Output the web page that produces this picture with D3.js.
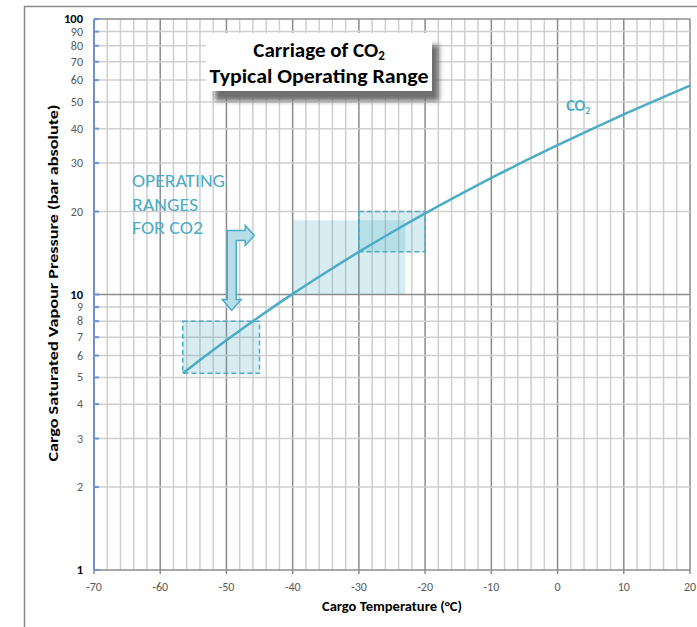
<!DOCTYPE html>
<meta charset="utf-8">
<head>
<style>
 body { margin: 0; background: #fff; }
 svg text { font-family: Carlito, "Open Sans", sans-serif; }
 .tick-minor { fill: #595959; font-size: 12px; }
 .tick-major { fill: #000; font-size: 12.5px; font-weight: bold; }
 .axis-title { font-size: 14px; font-weight: bold; fill: #000; }
</style>
</head>
<body>
<svg width="697" height="627"></svg>
<script src="https://d3js.org/d3.v7.min.js"></script>
<script>
  // CO2 saturation curve (deg C, bar abs)
  var temps     = [-56.6, -55, -50, -45, -40, -35, -30, -25, -20, -15, -10, -5, 0, 5, 10, 15, 20];
  var pressures = [5.18, 5.54, 6.82, 8.32, 10.05, 12.02, 14.28, 16.83, 19.70, 22.91, 26.49, 30.46, 34.85, 39.69, 45.02, 50.87, 57.29];

  // operating range boxes
  var rangeT0 = [-56.6, -40, -30];
  var rangeT1 = [-45, -23, -20];
  var rangeP0 = [5.18, 10, 14.3];
  var rangeP1 = [8, 18.6, 20];
  var rangeDashed = [true, false, true];

  var xTicks = [-70, -60, -50, -40, -30, -20, -10, 0, 10, 20];
  var yTicks = [1, 2, 3, 4, 5, 6, 7, 8, 9, 10, 20, 30, 40, 50, 60, 70, 80, 90, 100];
  var yMajor = [1, 10, 100];

  var svg = d3.select('svg');
  var width = +svg.attr('width');
  var height = +svg.attr('height');
  var margin = { top: 19, left: 94, bottom: 57, right: 7 };
  var aqua = '#4bacc6';

  var x = d3.scaleLinear().domain([-70, 20]).range([margin.left, width - margin.right]);
  var y = d3.scaleLog().domain([1, 100]).range([height - margin.bottom, margin.top]);

  // outer frame
  svg.append('rect').attr('x', 24.5).attr('y', 6.5).attr('width', 700).attr('height', 700)
    .attr('fill', 'none').attr('stroke', '#8a8a8a').attr('stroke-width', 1.5);

  var defs = svg.append('defs');
  defs.append('filter').attr('id', 'blur').attr('x', '-20%').attr('y', '-30%').attr('width', '140%').attr('height', '160%')
    .append('feGaussianBlur').attr('stdDeviation', 2.5);

  // grid
  var grid = svg.append('g');
  var vLines = d3.range(-70, 21, 2);
  grid.selectAll('.vl').data(vLines).enter().append('line')
    .attr('x1', d => x(d)).attr('x2', d => x(d))
    .attr('y1', y(100)).attr('y2', y(1))
    .attr('stroke', d => d % 10 === 0 ? '#8c8c8c' : '#cfcfcf')
    .attr('stroke-width', 1.5);
  grid.selectAll('.hl').data(yTicks).enter().append('line')
    .attr('x1', x(-70)).attr('x2', x(20))
    .attr('y1', d => y(d)).attr('y2', d => y(d))
    .attr('stroke', d => yMajor.indexOf(d) >= 0 ? '#8c8c8c' : '#cfcfcf')
    .attr('stroke-width', 1.5);

  // x ticks
  grid.selectAll('.xt').data(xTicks).enter().append('line')
    .attr('x1', d => x(d)).attr('x2', d => x(d))
    .attr('y1', y(1)).attr('y2', y(1) + 4)
    .attr('stroke', '#8c8c8c').attr('stroke-width', 1.5);
  svg.selectAll('.xl').data(xTicks).enter().append('text')
    .attr('class', 'tick-minor')
    .attr('x', d => x(d)).attr('y', y(1) + 21)
    .attr('text-anchor', 'middle')
    .text(d => d);

  // y axis (blue)
  svg.append('line').attr('x1', x(-70)).attr('x2', x(-70)).attr('y1', y(100)).attr('y2', y(1))
    .attr('stroke', '#6f93cf').attr('stroke-width', 2);
  svg.append('line').attr('x1', x(-70)).attr('x2', x(-70) + 6).attr('y1', y(1)).attr('y2', y(1))
    .attr('stroke', '#6f93cf').attr('stroke-width', 2);
  svg.selectAll('.yt').data(yTicks).enter().append('line')
    .attr('x1', x(-70)).attr('x2', x(-70) + 5)
    .attr('y1', d => y(d)).attr('y2', d => y(d))
    .attr('stroke', '#6f93cf').attr('stroke-width', 2);
  svg.selectAll('.yl').data(yTicks).enter().append('text')
    .attr('class', d => yMajor.indexOf(d) >= 0 ? 'tick-major' : 'tick-minor')
    .attr('x', x(-70) - 11).attr('y', d => y(d)).attr('dy', '0.33em')
    .attr('text-anchor', 'end')
    .text(d => d);

  // operating ranges
  var boxes = d3.range(rangeT0.length);
  svg.selectAll('.box').data(boxes).enter().append('rect')
    .attr('x', i => x(rangeT0[i])).attr('width', i => x(rangeT1[i]) - x(rangeT0[i]))
    .attr('y', i => y(rangeP1[i])).attr('height', i => y(rangeP0[i]) - y(rangeP1[i]))
    .attr('fill', aqua).attr('fill-opacity', 0.22)
    .attr('stroke', i => rangeDashed[i] ? aqua : 'none')
    .attr('stroke-width', 1.5)
    .attr('stroke-dasharray', '5,3');

  // curve
  var pts = temps.map((t, i) => [t, pressures[i]]);
  svg.append('path').datum(pts)
    .attr('d', d3.line().x(d => x(d[0])).y(d => y(d[1])).curve(d3.curveMonotoneX))
    .attr('fill', 'none').attr('stroke', aqua).attr('stroke-width', 2.5);

  var lab = svg.append('text').attr('x', x(1.3)).attr('y', y(46.5))
    .attr('fill', aqua).attr('font-size', 16).attr('font-weight', 'bold');
  lab.append('tspan').text('CO');
  lab.append('tspan').attr('font-size', 10).attr('dy', 3).text('2');

  // annotation text + bent arrow
  var notes = ['OPERATING', 'RANGES', 'FOR CO2'];
  svg.selectAll('.note').data(notes).enter().append('text')
    .attr('x', 132).attr('y', (d, i) => 187 + i * 23.5)
    .attr('fill', aqua).attr('font-size', 18)
    .attr('textLength', (d, i) => [93, 66, 71][i]).attr('lengthAdjust', 'spacingAndGlyphs')
    .text(d => d);

  var ax = x(-49.2), ay = y(8.75);
  var arrow = [[-4.5, -80], [13.5, -80], [13.5, -85], [22.5, -75], [13.5, -65], [13.5, -70],
               [4.5, -70], [4.5, -11], [9.5, -11], [0, 0], [-9.5, -11], [-4.5, -11]];
  svg.append('path')
    .attr('d', 'M' + arrow.map(p => (ax + p[0]) + ',' + (ay + p[1])).join('L') + 'Z')
    .attr('fill', '#b7dde8').attr('stroke', aqua).attr('stroke-width', 1.5);

  // title box
  var tb = svg.append('g');
  tb.append('rect').attr('x', 215).attr('y', 45).attr('width', 224).attr('height', 56)
    .attr('fill', '#6e6e6e').attr('filter', 'url(#blur)');
  tb.append('rect').attr('x', 206).attr('y', 33).attr('width', 226).attr('height', 58)
    .attr('fill', '#fff');
  var t1 = tb.append('text').attr('x', 319).attr('y', 57).attr('text-anchor', 'middle')
    .attr('font-size', 21).attr('font-weight', 'bold').attr('fill', '#000');
  t1.append('tspan').text('Carriage of CO');
  t1.append('tspan').attr('font-size', 13).attr('dy', 3).text('2');
  tb.append('text').attr('x', 319).attr('y', 83).attr('text-anchor', 'middle')
    .attr('font-size', 21).attr('font-weight', 'bold').attr('fill', '#000')
    .attr('textLength', 219).attr('lengthAdjust', 'spacingAndGlyphs')
    .text('Typical Operating Range');

  // axis titles
  svg.append('text').attr('class', 'axis-title')
    .attr('x', 392).attr('y', 611).attr('text-anchor', 'middle')
    .attr('textLength', 140).attr('lengthAdjust', 'spacingAndGlyphs')
    .text('Cargo Temperature (°C)');
  svg.append('text').attr('class', 'axis-title')
    .attr('transform', 'translate(58,283) rotate(-90)')
    .attr('text-anchor', 'middle')
    .attr('textLength', 357).attr('lengthAdjust', 'spacingAndGlyphs')
    .text('Cargo Saturated Vapour Pressure (bar absolute)');
</script>
</body>
</html>
